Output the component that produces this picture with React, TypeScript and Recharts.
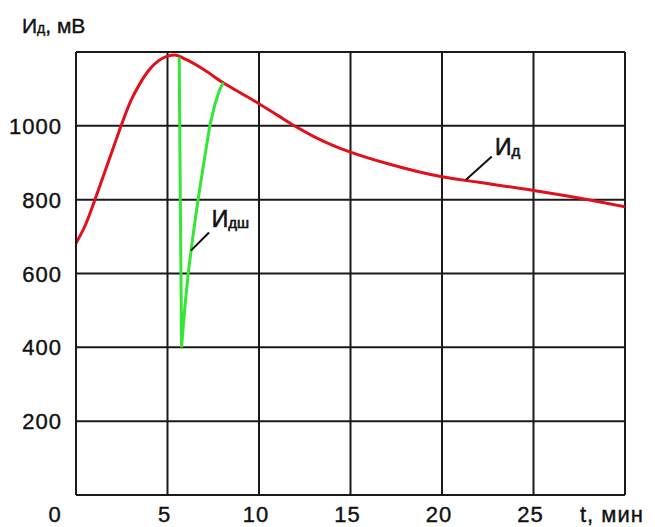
import React from "react";
import {
  LineChart,
  Line,
  XAxis,
  YAxis,
  CartesianGrid,
  ReferenceLine,
  ReferenceDot,
} from "recharts";

// Red curve Ид (mV) vs t (min)
const redT = [0, 0.5, 1, 1.5, 2, 2.5, 3, 3.5, 4, 4.5, 5, 5.4, 6, 7, 8, 9, 10, 11, 12, 13, 14, 15, 17, 20, 22, 25, 28, 30];
const redV = [682, 730, 795, 865, 935, 1005, 1068, 1115, 1152, 1176, 1189, 1192, 1180, 1152, 1118, 1089, 1060, 1029, 998, 971, 948, 929, 898, 862, 847, 825, 800, 781];

// Green curve Идш
const greenT = [5.64, 5.7, 5.77, 5.85, 5.95, 6.13, 6.4, 6.67, 7.0, 7.31, 7.6, 7.85, 8.05];
const greenV = [1186, 800, 400, 450, 510, 600, 705, 800, 905, 1000, 1060, 1098, 1117];

const xTicks = [0, 5, 10, 15, 20, 25, 30];
const xTickLabels = ["0", "5", "10", "15", "20", "25", "t, мин"];
const yTicks = [0, 200, 400, 600, 800, 1000, 1200];
const yTickLabels = ["", "200", "400", "600", "800", "1000", ""];

const redData = redT.map((t, i) => ({ t, v: redV[i] }));
const greenData = greenT.map((t, i) => ({ t, v: greenV[i] }));

const FONT = "'Liberation Sans', Arial, sans-serif";
const TXT = "#111";

const XTick = (props: any) => {
  const { x, y, payload } = props;
  const idx = xTicks.indexOf(payload.value);
  const label = xTickLabels[idx] ?? String(payload.value);
  let dx = -3;
  let anchor: any = "middle";
  if (payload.value === 0) dx = -21;
  if (payload.value === 30) {
    dx = -45;
    anchor = "start";
  }
  return (
    <text
      x={x + dx}
      y={y + 27}
      textAnchor={anchor}
      fontFamily={FONT}
      fontSize={22}
      letterSpacing={1}
      fill={TXT}
      stroke={TXT}
      strokeWidth={0.4}
    >
      {label}
    </text>
  );
};

const YTick = (props: any) => {
  const { x, y, payload } = props;
  const idx = yTicks.indexOf(payload.value);
  const label = yTickLabels[idx] ?? "";
  if (!label) return null;
  return (
    <text
      x={x - 14}
      y={y + 8}
      textAnchor="end"
      fontFamily={FONT}
      fontSize={22}
      letterSpacing={1}
      fill={TXT}
      stroke={TXT}
      strokeWidth={0.4}
    >
      {label}
    </text>
  );
};

const Title = () => (
  <text x={14} y={25} fontFamily={FONT} fontSize={21} fill={TXT} stroke={TXT} strokeWidth={0.4}>
    <tspan>И</tspan>
    <tspan fontSize={14}>д</tspan>
    <tspan>, мВ</tspan>
  </text>
);

const makeAnno = (main: string, sub: string) => (props: any) => {
  const vb = props.viewBox || {};
  const x = (vb.x ?? 0) + (vb.width ?? 0) / 2;
  const y = (vb.y ?? 0) + (vb.height ?? 0) / 2;
  return (
    <text x={x} y={y} fontFamily={FONT} fontSize={23} fill={TXT} stroke={TXT} strokeWidth={0.6}>
      <tspan>{main}</tspan>
      <tspan fontSize={15} dy={1}>{sub}</tspan>
    </text>
  );
};

export default function App() {
  return (
    <LineChart
      width={639}
      height={519}
      margin={{ top: 44, right: 22, bottom: 2, left: 8 }}
    >
      <CartesianGrid
        stroke="#1a1a1a"
        strokeWidth={2}
        horizontalValues={yTicks}
        verticalValues={xTicks}
      />
      <XAxis
        dataKey="t"
        type="number"
        domain={[0, 30]}
        ticks={xTicks}
        interval={0}
        tickLine={false}
        tickSize={0}
        tickMargin={0}
        axisLine={{ stroke: "#1a1a1a", strokeWidth: 2 }}
        height={30}
        tick={<XTick />}
        allowDataOverflow
      />
      <YAxis
        type="number"
        domain={[0, 1200]}
        ticks={yTicks}
        interval={0}
        tickLine={false}
        tickSize={0}
        tickMargin={0}
        axisLine={{ stroke: "#1a1a1a", strokeWidth: 2 }}
        width={60}
        tick={<YTick />}
        label={{ content: () => <Title /> }}
        allowDataOverflow
      />
      <Line
        data={redData}
        dataKey="v"
        type="monotone"
        stroke="#e0101c"
        strokeWidth={3}
        dot={false}
        activeDot={false}
        isAnimationActive={false}
      />
      <Line
        data={greenData}
        dataKey="v"
        type="linear"
        stroke="#35e635"
        strokeWidth={3}
        dot={false}
        activeDot={false}
        isAnimationActive={false}
      />
      <ReferenceLine
        segment={[
          { x: 7.27, y: 711 },
          { x: 6.28, y: 662 },
        ]}
        stroke="#111"
        strokeWidth={2}
      />
      <ReferenceLine
        segment={[
          { x: 22.72, y: 917 },
          { x: 21.31, y: 854 },
        ]}
        stroke="#111"
        strokeWidth={2}
      />
      <ReferenceDot
        x={7.42}
        y={726}
        r={0}
        fill="none"
        stroke="none"
        label={{ content: makeAnno("И", "дш") }}
      />
      <ReferenceDot
        x={22.9}
        y={921}
        r={0}
        fill="none"
        stroke="none"
        label={{ content: makeAnno("И", "д") }}
      />
    </LineChart>
  );
}
